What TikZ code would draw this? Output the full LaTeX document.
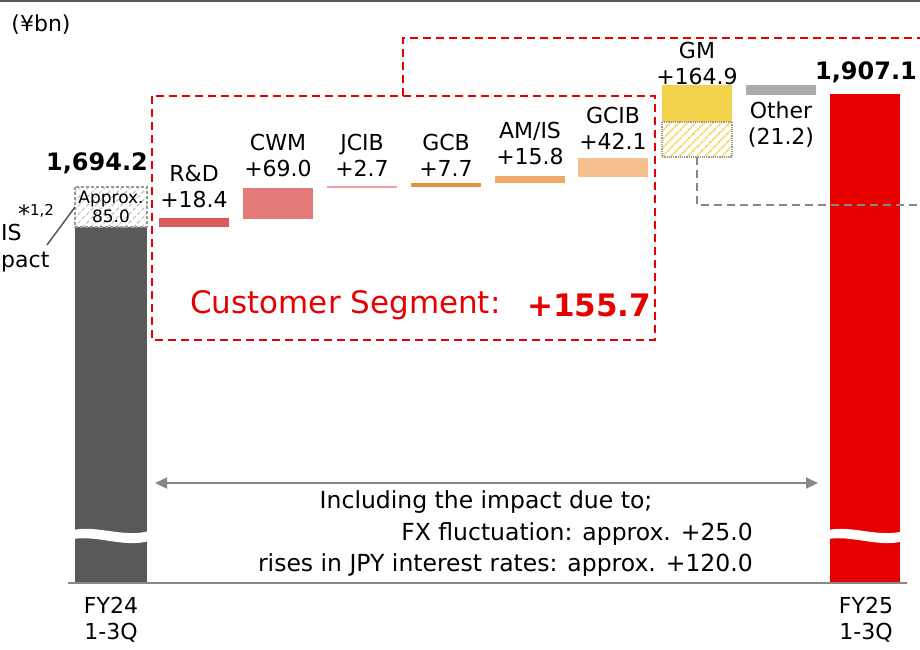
\documentclass[tikz,border=0pt]{standalone}
\usepackage{fontspec}
\setmainfont{DejaVu Sans}
\usetikzlibrary{arrows.meta,patterns.meta}
\definecolor{smred}{HTML}{E60000}
\definecolor{barGray}{HTML}{595959}
\definecolor{cRD}{HTML}{DC5A5A}
\definecolor{cCWM}{HTML}{E47B7B}
\definecolor{cJCIB}{HTML}{F0A0A0}
\definecolor{cGCB}{HTML}{E8913F}
\definecolor{cAMIS}{HTML}{EFA868}
\definecolor{cGCIB}{HTML}{F5BF8E}
\definecolor{cGM}{HTML}{F2D24B}
\definecolor{cOther}{HTML}{ABABAB}
\definecolor{lineGray}{HTML}{888888}
\tikzset{
  lbl/.style={align=center,inner sep=0pt,font=\fontsize{22}{26}\selectfont},
  note/.style={inner sep=0pt,font=\fontsize{23.5}{31}\selectfont},
  tot/.style={inner sep=0pt,font=\fontsize{24}{26}\selectfont\bfseries},
  segframe/.style={smred,line width=2pt,dash pattern=on 8pt off 5pt},
  gmlink/.style={lineGray,line width=2pt,dash pattern=on 8pt off 5pt},
  hatchgray/.style={pattern={Lines[angle=45,distance=6pt,line width=1.2pt]},pattern color=gray!45,
    draw=gray!80,line width=1.2pt,densely dashed},
  hatchyellow/.style={pattern={Lines[angle=45,distance=6pt,line width=1.8pt]},pattern color=cGM,
    draw=gray!80,line width=1.2pt,densely dotted},
}
\begin{document}
\begin{tikzpicture}[x=1pt,y=-1pt]
\useasboundingbox (0,0) rectangle (920,649);
\draw[gray!70!black,line width=2pt] (0,1) -- (920,1);
\node[lbl] (unit) at (41,25) {(¥bn)};

\fill[barGray] (75,227) rectangle (147,583);
\draw[hatchgray] (75,187) rectangle (147,227);
\node[align=center,inner sep=0pt,font=\fontsize{17}{19}\selectfont] (approx) at (111,207) {Approx.\\85.0};
\node[tot] (v24) at (97,163) {1,694.2};
\node[lbl,anchor=west] (is) at (1,232) {IS};
\node[lbl,anchor=west] (pact) at (1,262) {pact};
\node[inner sep=0pt,font=\fontsize{24}{24}\selectfont] (ast) at (36,213) {*\raisebox{7pt}{\fontsize{15}{15}\selectfont 1,2}};
\coordinate (leadA) at (47,245);
\coordinate (leadB) at (75,207);
\draw[gray!70!black,line width=1.5pt] (leadA) -- (leadB);

\draw[segframe] (152,96) rectangle (655,340);
\draw[segframe] (403,96) -- (403,38) -- (920,38);

\fill[cRD] (159,218) rectangle (229,227);
\node[lbl] (rd) at (194,186) {R\&D\\+18.4};
\fill[cCWM] (243,188) rectangle (313,219);
\node[lbl] (cwm) at (278,155) {CWM\\+69.0};
\fill[cJCIB] (327,186) rectangle (397,188);
\node[lbl] (jcib) at (362,155) {JCIB\\+2.7};
\fill[cGCB] (411,183) rectangle (481,187);
\node[lbl] (gcb) at (446,155) {GCB\\+7.7};
\fill[cAMIS] (495,176) rectangle (565,183);
\node[lbl] (amis) at (530,143) {AM/IS\\+15.8};
\fill[cGCIB] (578,158) rectangle (648,177);
\node[lbl] (gcib) at (613,128) {GCIB\\+42.1};

\node[inner sep=0pt,anchor=west,text=smred,font=\fontsize{31}{31}\selectfont] (cs) at (190,305) {Customer Segment:};
\node[inner sep=0pt,anchor=west,text=smred,font=\fontsize{31}{31}\selectfont\bfseries] (csv) at (527,305) {+155.7};

\fill[cGM] (662,85) rectangle (732,122);
\draw[hatchyellow] (662,122) rectangle (732,157);
\node[lbl] (gm) at (697,63) {GM\\+164.9};
\fill[cOther] (746,85) rectangle (816,95);
\node[lbl] (other) at (781,125) {Other\\(21.2)};

\fill[smred] (830,94) rectangle (900,583);
\node[tot] (v25) at (866,72) {1,907.1};
\coordinate (gmfoot) at (697,157);
\draw[gmlink] (gmfoot) -- (697,205) -- (920,205);

\fill[white] (73,530) .. controls (98,525) and (124,538) .. (149,531) -- (149,541) .. controls (124,548) and (98,535) .. (73,539) -- cycle;
\fill[white] (828,530) .. controls (853,525) and (879,538) .. (904,531) -- (904,541) .. controls (879,548) and (853,535) .. (828,539) -- cycle;
\draw[lineGray,line width=2pt] (68,583) -- (907,583);

\coordinate (spanL) at (155,483);
\coordinate (spanR) at (818,483);
\draw[lineGray,line width=2pt,{Triangle[length=12pt,width=11pt]}-{Triangle[length=12pt,width=11pt]}] (spanL) -- (spanR);
\node[note] (incl) at (486,502) {Including the impact due to;};
\node[note,anchor=east] (fx) at (753,534) {FX fluctuation: approx. +25.0};
\node[note,anchor=east] (jpy) at (753,565) {rises in JPY interest rates: approx. +120.0};

\node[lbl] (fy24) at (111,620) {FY24\\1-3Q};
\node[lbl] (fy25) at (866,620) {FY25\\1-3Q};
\end{tikzpicture}
\end{document}
